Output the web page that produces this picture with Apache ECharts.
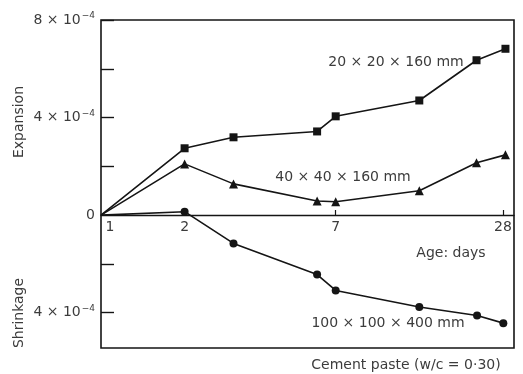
<!DOCTYPE html>
<html>
<head>
<meta charset="utf-8">
<script src="https://cdn.jsdelivr.net/npm/echarts@6/dist/echarts.min.js"></script>
<style>html,body{margin:0;padding:0;background:#fff}#c{width:523px;height:374px}</style>
</head>
<body>
<div id="c"></div>
<script>
// Values in units of 1e-4 (strain). Shrinkage plotted negative (below zero).
const daysSquare = [1, 2, 3, 6, 7, 14, 22.5, 28.6];
const expSquare = [0, 2.74, 3.19, 3.43, 4.05, 4.70, 6.35, 6.82];
const daysTriangle = [1, 2, 3, 6, 7, 14, 22.5, 28.6];
const expTriangle = [0, 2.10, 1.28, 0.58, 0.55, 1.0, 2.15, 2.47];
const daysCircle = [1, 2, 3, 6, 7, 14, 22.6, 28.1];
const expCircle = [0, 0.14, -1.16, -2.44, -3.09, -3.77, -4.12, -4.43];
const xTickValues = [2, 7, 28];
const xLabelValues = [1, 2, 7, 28];
const yTickValues = [-4, -2, 2, 4, 6, 8];
const yLabelValues = [-4, 0, 4, 8];
const seriesNames = ['20 × 20 × 160 mm', '40 × 40 × 160 mm', '100 × 100 × 400 mm'];

const FONT = '"DejaVu Sans", sans-serif';
const TXT = '#3c3c3c';
const LINE = '#151515';
const FS = 14;
const zip = (xs, ys) => xs.map((x, i) => i === 0 ? {value: [x, ys[i]], symbol: 'none'} : [x, ys[i]]);

const chart = echarts.init(document.getElementById('c'), null, {renderer: 'canvas'});
const mk = (name, xs, ys, symbol, size) => ({
  name, type: 'line', data: zip(xs, ys), symbol, symbolSize: size,
  lineStyle: {color: LINE, width: 1.6}, itemStyle: {color: LINE}, z: 5, animation: false
});
const txt = (x, y, text, rot) => ({
  type: 'text', x, y, rotation: rot || 0,
  style: {text, fill: TXT, font: FS + 'px ' + FONT, align: 'center', verticalAlign: 'middle'}
});
chart.setOption({
  animation: false,
  grid: {left: 101, right: 9, top: 20, bottom: 26, show: true, borderColor: LINE, borderWidth: 1.6, backgroundColor: 'transparent'},
  xAxis: {
    type: 'log', logBase: 10, min: 1, max: 30.7, offset: -133,
    axisLine: {show: true, onZero: false, lineStyle: {color: LINE, width: 1.4}},
    axisTick: {show: true, inside: true, length: 5, customValues: xTickValues, lineStyle: {color: LINE, width: 1.2}},
    minorTick: {show: false},
    splitLine: {show: false},
    axisLabel: {
      customValues: xLabelValues, color: TXT, fontFamily: FONT, fontSize: FS, margin: 5,
      formatter: v => (Math.abs(v - 1) < 1e-6 ? '{one|1}' : String(Math.round(v))),
      rich: {one: {padding: [0, 0, 0, 18], fontSize: FS, fontFamily: FONT, color: TXT}}
    }
  },
  yAxis: {
    type: 'value', min: -5.45, max: 8,
    axisLine: {show: false},
    axisTick: {show: true, inside: true, length: 13, customValues: yTickValues, lineStyle: {color: LINE, width: 1.4}},
    splitLine: {show: false},
    axisLabel: {
      customValues: yLabelValues, color: TXT, fontFamily: FONT, fontSize: FS, margin: 6,
      formatter: v => v === 0 ? '{n|0}' : '{n|' + Math.abs(v) + ' × 10}{s|−4}',
      rich: {
        n: {fontSize: FS, fontFamily: FONT, color: TXT},
        s: {fontSize: 9, fontFamily: FONT, color: TXT, verticalAlign: 'bottom', padding: [0, 0, 8, 1]}
      }
    }
  },
  series: [
    mk(seriesNames[0], daysSquare, expSquare, 'rect', 8),
    mk(seriesNames[1], daysTriangle, expTriangle, 'triangle', 9),
    mk(seriesNames[2], daysCircle, expCircle, 'circle', 8)
  ],
  graphic: [
    txt(19, 122, 'Expansion', Math.PI / 2),
    txt(19, 313, 'Shrinkage', Math.PI / 2),
    txt(451, 253, 'Age: days'),
    txt(396, 62, seriesNames[0]),
    txt(343, 177, seriesNames[1]),
    txt(388, 323, seriesNames[2]),
    txt(406, 365, 'Cement paste (w/c = 0·30)')
  ]
});
</script>
</body>
</html>
